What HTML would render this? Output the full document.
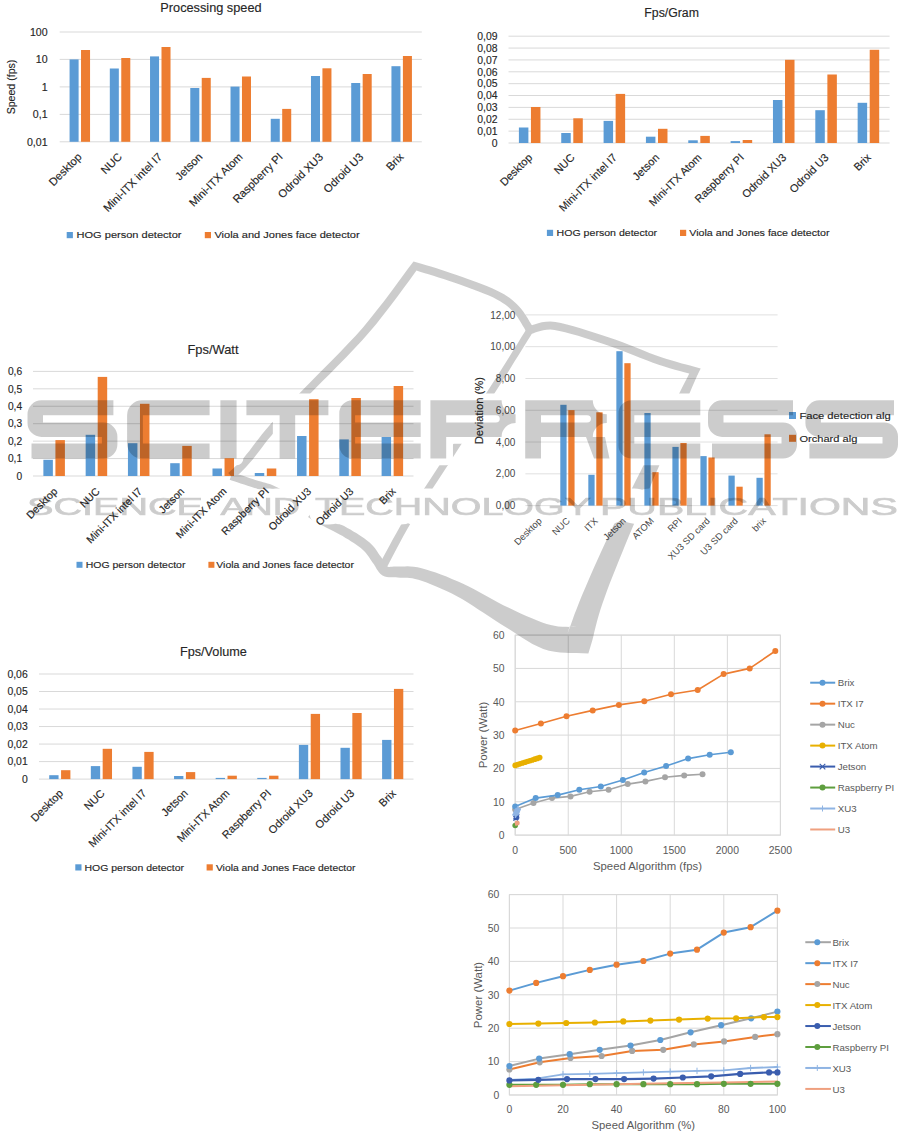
<!DOCTYPE html><html><head><meta charset="utf-8"><style>html,body{margin:0;padding:0;background:#fff;}svg{display:block;}</style></head><body><svg width="915" height="1135" viewBox="0 0 915 1135" font-family='"Liberation Sans", sans-serif'>
<rect width="915" height="1135" fill="#fff"/>
<line x1="59.70" y1="32.00" x2="421.80" y2="32.00" stroke="#D9D9D9" stroke-width="1"/>
<line x1="59.70" y1="59.40" x2="421.80" y2="59.40" stroke="#D9D9D9" stroke-width="1"/>
<line x1="59.70" y1="86.90" x2="421.80" y2="86.90" stroke="#D9D9D9" stroke-width="1"/>
<line x1="59.70" y1="114.40" x2="421.80" y2="114.40" stroke="#D9D9D9" stroke-width="1"/>
<line x1="59.70" y1="141.80" x2="421.80" y2="141.80" stroke="#D9D9D9" stroke-width="1"/>
<text x="47.60" y="35.82" font-size="10.60" fill="#262626" text-anchor="end" stroke="#262626" stroke-width="0.14">100</text>
<text x="47.60" y="63.22" font-size="10.60" fill="#262626" text-anchor="end" stroke="#262626" stroke-width="0.14">10</text>
<text x="47.60" y="90.72" font-size="10.60" fill="#262626" text-anchor="end" stroke="#262626" stroke-width="0.14">1</text>
<text x="47.60" y="118.22" font-size="10.60" fill="#262626" text-anchor="end" stroke="#262626" stroke-width="0.14">0,1</text>
<text x="47.60" y="145.62" font-size="10.60" fill="#262626" text-anchor="end" stroke="#262626" stroke-width="0.14">0,01</text>
<rect x="69.58" y="59.40" width="9.02" height="82.40" fill="#5B9BD5"/>
<rect x="81.03" y="50.00" width="9.02" height="91.80" fill="#ED7D31"/>
<rect x="109.81" y="68.50" width="9.02" height="73.30" fill="#5B9BD5"/>
<rect x="121.27" y="58.00" width="9.02" height="83.80" fill="#ED7D31"/>
<rect x="150.04" y="56.40" width="9.02" height="85.40" fill="#5B9BD5"/>
<rect x="161.50" y="47.00" width="9.02" height="94.80" fill="#ED7D31"/>
<rect x="190.28" y="88.00" width="9.02" height="53.80" fill="#5B9BD5"/>
<rect x="201.73" y="77.90" width="9.02" height="63.90" fill="#ED7D31"/>
<rect x="230.51" y="86.60" width="9.02" height="55.20" fill="#5B9BD5"/>
<rect x="241.97" y="76.50" width="9.02" height="65.30" fill="#ED7D31"/>
<rect x="270.74" y="118.80" width="9.02" height="23.00" fill="#5B9BD5"/>
<rect x="282.20" y="108.90" width="9.02" height="32.90" fill="#ED7D31"/>
<rect x="310.98" y="76.00" width="9.02" height="65.80" fill="#5B9BD5"/>
<rect x="322.43" y="68.30" width="9.02" height="73.50" fill="#ED7D31"/>
<rect x="351.21" y="83.00" width="9.02" height="58.80" fill="#5B9BD5"/>
<rect x="362.67" y="74.00" width="9.02" height="67.80" fill="#ED7D31"/>
<rect x="391.44" y="66.20" width="9.02" height="75.60" fill="#5B9BD5"/>
<rect x="402.90" y="56.00" width="9.02" height="85.80" fill="#ED7D31"/>
<text x="82.42" y="157.60" font-size="11.20" fill="#262626" text-anchor="end" transform="rotate(-45 82.42 157.60)" stroke="#262626" stroke-width="0.14">Desktop</text>
<text x="122.65" y="157.60" font-size="11.20" fill="#262626" text-anchor="end" transform="rotate(-45 122.65 157.60)" stroke="#262626" stroke-width="0.14">NUC</text>
<text x="162.88" y="157.60" font-size="11.20" fill="#262626" text-anchor="end" transform="rotate(-45 162.88 157.60)" stroke="#262626" stroke-width="0.14">Mini-ITX intel I7</text>
<text x="203.12" y="157.60" font-size="11.20" fill="#262626" text-anchor="end" transform="rotate(-45 203.12 157.60)" stroke="#262626" stroke-width="0.14">Jetson</text>
<text x="243.35" y="157.60" font-size="11.20" fill="#262626" text-anchor="end" transform="rotate(-45 243.35 157.60)" stroke="#262626" stroke-width="0.14">Mini-ITX Atom</text>
<text x="283.58" y="157.60" font-size="11.20" fill="#262626" text-anchor="end" transform="rotate(-45 283.58 157.60)" stroke="#262626" stroke-width="0.14">Raspberry PI</text>
<text x="323.82" y="157.60" font-size="11.20" fill="#262626" text-anchor="end" transform="rotate(-45 323.82 157.60)" stroke="#262626" stroke-width="0.14">Odroid XU3</text>
<text x="364.05" y="157.60" font-size="11.20" fill="#262626" text-anchor="end" transform="rotate(-45 364.05 157.60)" stroke="#262626" stroke-width="0.14">Odroid U3</text>
<text x="404.28" y="157.60" font-size="11.20" fill="#262626" text-anchor="end" transform="rotate(-45 404.28 157.60)" stroke="#262626" stroke-width="0.14">Brix</text>
<text x="160.30" y="12.20" font-size="12.80" fill="#262626" textLength="101.30" lengthAdjust="spacingAndGlyphs" stroke="#262626" stroke-width="0.14">Processing speed</text>
<rect x="66.70" y="232.00" width="6.20" height="6.20" fill="#5B9BD5"/>
<text x="76.50" y="238.20" font-size="9.60" fill="#262626" textLength="105.00" lengthAdjust="spacingAndGlyphs" stroke="#262626" stroke-width="0.14">HOG person detector</text>
<rect x="204.80" y="232.00" width="6.20" height="6.20" fill="#ED7D31"/>
<text x="214.40" y="238.20" font-size="9.60" fill="#262626" textLength="145.20" lengthAdjust="spacingAndGlyphs" stroke="#262626" stroke-width="0.14">Viola and Jones face detector</text>
<text x="14.50" y="87.00" font-size="10.60" fill="#262626" text-anchor="middle" transform="rotate(-90 14.50 87.00)" textLength="54.70" lengthAdjust="spacingAndGlyphs" stroke="#262626" stroke-width="0.14">Speed (fps)</text>
<line x1="508.50" y1="36.20" x2="889.60" y2="36.20" stroke="#D9D9D9" stroke-width="1"/>
<line x1="508.50" y1="48.07" x2="889.60" y2="48.07" stroke="#D9D9D9" stroke-width="1"/>
<line x1="508.50" y1="59.93" x2="889.60" y2="59.93" stroke="#D9D9D9" stroke-width="1"/>
<line x1="508.50" y1="71.80" x2="889.60" y2="71.80" stroke="#D9D9D9" stroke-width="1"/>
<line x1="508.50" y1="83.67" x2="889.60" y2="83.67" stroke="#D9D9D9" stroke-width="1"/>
<line x1="508.50" y1="95.53" x2="889.60" y2="95.53" stroke="#D9D9D9" stroke-width="1"/>
<line x1="508.50" y1="107.40" x2="889.60" y2="107.40" stroke="#D9D9D9" stroke-width="1"/>
<line x1="508.50" y1="119.27" x2="889.60" y2="119.27" stroke="#D9D9D9" stroke-width="1"/>
<line x1="508.50" y1="131.13" x2="889.60" y2="131.13" stroke="#D9D9D9" stroke-width="1"/>
<line x1="508.50" y1="143.00" x2="889.60" y2="143.00" stroke="#D9D9D9" stroke-width="1"/>
<text x="497.50" y="39.94" font-size="10.40" fill="#262626" text-anchor="end" stroke="#262626" stroke-width="0.14">0,09</text>
<text x="497.50" y="51.81" font-size="10.40" fill="#262626" text-anchor="end" stroke="#262626" stroke-width="0.14">0,08</text>
<text x="497.50" y="63.68" font-size="10.40" fill="#262626" text-anchor="end" stroke="#262626" stroke-width="0.14">0,07</text>
<text x="497.50" y="75.54" font-size="10.40" fill="#262626" text-anchor="end" stroke="#262626" stroke-width="0.14">0,06</text>
<text x="497.50" y="87.41" font-size="10.40" fill="#262626" text-anchor="end" stroke="#262626" stroke-width="0.14">0,05</text>
<text x="497.50" y="99.28" font-size="10.40" fill="#262626" text-anchor="end" stroke="#262626" stroke-width="0.14">0,04</text>
<text x="497.50" y="111.14" font-size="10.40" fill="#262626" text-anchor="end" stroke="#262626" stroke-width="0.14">0,03</text>
<text x="497.50" y="123.01" font-size="10.40" fill="#262626" text-anchor="end" stroke="#262626" stroke-width="0.14">0,02</text>
<text x="497.50" y="134.88" font-size="10.40" fill="#262626" text-anchor="end" stroke="#262626" stroke-width="0.14">0,01</text>
<text x="497.50" y="146.74" font-size="10.40" fill="#262626" text-anchor="end" stroke="#262626" stroke-width="0.14">0</text>
<rect x="518.90" y="127.50" width="9.49" height="15.50" fill="#5B9BD5"/>
<rect x="530.95" y="107.00" width="9.49" height="36.00" fill="#ED7D31"/>
<rect x="561.24" y="133.00" width="9.49" height="10.00" fill="#5B9BD5"/>
<rect x="573.30" y="118.30" width="9.49" height="24.70" fill="#ED7D31"/>
<rect x="603.59" y="120.90" width="9.49" height="22.10" fill="#5B9BD5"/>
<rect x="615.64" y="93.90" width="9.49" height="49.10" fill="#ED7D31"/>
<rect x="645.93" y="136.70" width="9.49" height="6.30" fill="#5B9BD5"/>
<rect x="657.99" y="128.80" width="9.49" height="14.20" fill="#ED7D31"/>
<rect x="688.27" y="140.30" width="9.49" height="2.70" fill="#5B9BD5"/>
<rect x="700.33" y="135.90" width="9.49" height="7.10" fill="#ED7D31"/>
<rect x="730.62" y="141.10" width="9.49" height="1.90" fill="#5B9BD5"/>
<rect x="742.68" y="140.00" width="9.49" height="3.00" fill="#ED7D31"/>
<rect x="772.96" y="100.00" width="9.49" height="43.00" fill="#5B9BD5"/>
<rect x="785.02" y="59.80" width="9.49" height="83.20" fill="#ED7D31"/>
<rect x="815.31" y="110.20" width="9.49" height="32.80" fill="#5B9BD5"/>
<rect x="827.37" y="74.50" width="9.49" height="68.50" fill="#ED7D31"/>
<rect x="857.65" y="102.80" width="9.49" height="40.20" fill="#5B9BD5"/>
<rect x="869.71" y="49.80" width="9.49" height="93.20" fill="#ED7D31"/>
<text x="532.97" y="158.20" font-size="11.00" fill="#262626" text-anchor="end" transform="rotate(-45 532.97 158.20)" stroke="#262626" stroke-width="0.14">Desktop</text>
<text x="575.32" y="158.20" font-size="11.00" fill="#262626" text-anchor="end" transform="rotate(-45 575.32 158.20)" stroke="#262626" stroke-width="0.14">NUC</text>
<text x="617.66" y="158.20" font-size="11.00" fill="#262626" text-anchor="end" transform="rotate(-45 617.66 158.20)" stroke="#262626" stroke-width="0.14">Mini-ITX intel I7</text>
<text x="660.01" y="158.20" font-size="11.00" fill="#262626" text-anchor="end" transform="rotate(-45 660.01 158.20)" stroke="#262626" stroke-width="0.14">Jetson</text>
<text x="702.35" y="158.20" font-size="11.00" fill="#262626" text-anchor="end" transform="rotate(-45 702.35 158.20)" stroke="#262626" stroke-width="0.14">Mini-ITX Atom</text>
<text x="744.69" y="158.20" font-size="11.00" fill="#262626" text-anchor="end" transform="rotate(-45 744.69 158.20)" stroke="#262626" stroke-width="0.14">Raspberry PI</text>
<text x="787.04" y="158.20" font-size="11.00" fill="#262626" text-anchor="end" transform="rotate(-45 787.04 158.20)" stroke="#262626" stroke-width="0.14">Odroid XU3</text>
<text x="829.38" y="158.20" font-size="11.00" fill="#262626" text-anchor="end" transform="rotate(-45 829.38 158.20)" stroke="#262626" stroke-width="0.14">Odroid U3</text>
<text x="871.73" y="158.20" font-size="11.00" fill="#262626" text-anchor="end" transform="rotate(-45 871.73 158.20)" stroke="#262626" stroke-width="0.14">Brix</text>
<text x="644.30" y="17.20" font-size="12.30" fill="#262626" textLength="54.60" lengthAdjust="spacingAndGlyphs" stroke="#262626" stroke-width="0.14">Fps/Gram</text>
<rect x="546.90" y="229.80" width="6.20" height="6.20" fill="#5B9BD5"/>
<text x="556.60" y="236.00" font-size="9.40" fill="#262626" textLength="100.50" lengthAdjust="spacingAndGlyphs" stroke="#262626" stroke-width="0.14">HOG person detector</text>
<rect x="680.00" y="229.80" width="6.20" height="6.20" fill="#ED7D31"/>
<text x="689.30" y="236.00" font-size="9.40" fill="#262626" textLength="140.20" lengthAdjust="spacingAndGlyphs" stroke="#262626" stroke-width="0.14">Viola and Jones face detector</text>
<line x1="33.00" y1="371.40" x2="413.50" y2="371.40" stroke="#D9D9D9" stroke-width="1"/>
<line x1="33.00" y1="388.83" x2="413.50" y2="388.83" stroke="#D9D9D9" stroke-width="1"/>
<line x1="33.00" y1="406.27" x2="413.50" y2="406.27" stroke="#D9D9D9" stroke-width="1"/>
<line x1="33.00" y1="423.70" x2="413.50" y2="423.70" stroke="#D9D9D9" stroke-width="1"/>
<line x1="33.00" y1="441.13" x2="413.50" y2="441.13" stroke="#D9D9D9" stroke-width="1"/>
<line x1="33.00" y1="458.57" x2="413.50" y2="458.57" stroke="#D9D9D9" stroke-width="1"/>
<line x1="33.00" y1="476.00" x2="413.50" y2="476.00" stroke="#D9D9D9" stroke-width="1"/>
<text x="22.10" y="375.07" font-size="10.20" fill="#262626" text-anchor="end" stroke="#262626" stroke-width="0.14">0,6</text>
<text x="22.10" y="392.51" font-size="10.20" fill="#262626" text-anchor="end" stroke="#262626" stroke-width="0.14">0,5</text>
<text x="22.10" y="409.94" font-size="10.20" fill="#262626" text-anchor="end" stroke="#262626" stroke-width="0.14">0,4</text>
<text x="22.10" y="427.37" font-size="10.20" fill="#262626" text-anchor="end" stroke="#262626" stroke-width="0.14">0,3</text>
<text x="22.10" y="444.81" font-size="10.20" fill="#262626" text-anchor="end" stroke="#262626" stroke-width="0.14">0,2</text>
<text x="22.10" y="462.24" font-size="10.20" fill="#262626" text-anchor="end" stroke="#262626" stroke-width="0.14">0,1</text>
<text x="22.10" y="479.67" font-size="10.20" fill="#262626" text-anchor="end" stroke="#262626" stroke-width="0.14">0</text>
<rect x="43.38" y="459.80" width="9.48" height="16.20" fill="#5B9BD5"/>
<rect x="55.42" y="440.10" width="9.48" height="35.90" fill="#ED7D31"/>
<rect x="85.66" y="434.80" width="9.48" height="41.20" fill="#5B9BD5"/>
<rect x="97.70" y="376.90" width="9.48" height="99.10" fill="#ED7D31"/>
<rect x="127.94" y="443.20" width="9.48" height="32.80" fill="#5B9BD5"/>
<rect x="139.97" y="403.80" width="9.48" height="72.20" fill="#ED7D31"/>
<rect x="170.21" y="463.20" width="9.48" height="12.80" fill="#5B9BD5"/>
<rect x="182.25" y="445.90" width="9.48" height="30.10" fill="#ED7D31"/>
<rect x="212.49" y="468.50" width="9.48" height="7.50" fill="#5B9BD5"/>
<rect x="224.53" y="458.20" width="9.48" height="17.80" fill="#ED7D31"/>
<rect x="254.77" y="473.00" width="9.48" height="3.00" fill="#5B9BD5"/>
<rect x="266.81" y="468.50" width="9.48" height="7.50" fill="#ED7D31"/>
<rect x="297.05" y="436.00" width="9.48" height="40.00" fill="#5B9BD5"/>
<rect x="309.09" y="399.20" width="9.48" height="76.80" fill="#ED7D31"/>
<rect x="339.32" y="439.40" width="9.48" height="36.60" fill="#5B9BD5"/>
<rect x="351.36" y="398.00" width="9.48" height="78.00" fill="#ED7D31"/>
<rect x="381.60" y="437.00" width="9.48" height="39.00" fill="#5B9BD5"/>
<rect x="393.64" y="386.00" width="9.48" height="90.00" fill="#ED7D31"/>
<text x="58.14" y="492.00" font-size="10.60" fill="#262626" text-anchor="end" transform="rotate(-45 58.14 492.00)" stroke="#262626" stroke-width="0.14">Desktop</text>
<text x="100.42" y="492.00" font-size="10.60" fill="#262626" text-anchor="end" transform="rotate(-45 100.42 492.00)" stroke="#262626" stroke-width="0.14">NUC</text>
<text x="142.69" y="492.00" font-size="10.60" fill="#262626" text-anchor="end" transform="rotate(-45 142.69 492.00)" stroke="#262626" stroke-width="0.14">Mini-ITX intel I7</text>
<text x="184.97" y="492.00" font-size="10.60" fill="#262626" text-anchor="end" transform="rotate(-45 184.97 492.00)" stroke="#262626" stroke-width="0.14">Jetson</text>
<text x="227.25" y="492.00" font-size="10.60" fill="#262626" text-anchor="end" transform="rotate(-45 227.25 492.00)" stroke="#262626" stroke-width="0.14">Mini-ITX Atom</text>
<text x="269.53" y="492.00" font-size="10.60" fill="#262626" text-anchor="end" transform="rotate(-45 269.53 492.00)" stroke="#262626" stroke-width="0.14">Raspberry PI</text>
<text x="311.81" y="492.00" font-size="10.60" fill="#262626" text-anchor="end" transform="rotate(-45 311.81 492.00)" stroke="#262626" stroke-width="0.14">Odroid XU3</text>
<text x="354.08" y="492.00" font-size="10.60" fill="#262626" text-anchor="end" transform="rotate(-45 354.08 492.00)" stroke="#262626" stroke-width="0.14">Odroid U3</text>
<text x="396.36" y="492.00" font-size="10.60" fill="#262626" text-anchor="end" transform="rotate(-45 396.36 492.00)" stroke="#262626" stroke-width="0.14">Brix</text>
<text x="187.50" y="354.00" font-size="12.60" fill="#262626" textLength="51.00" lengthAdjust="spacingAndGlyphs" stroke="#262626" stroke-width="0.14">Fps/Watt</text>
<rect x="76.50" y="561.80" width="6.00" height="6.00" fill="#5B9BD5"/>
<text x="85.70" y="567.80" font-size="9.30" fill="#262626" textLength="99.70" lengthAdjust="spacingAndGlyphs" stroke="#262626" stroke-width="0.14">HOG person detector</text>
<rect x="208.40" y="561.80" width="6.00" height="6.00" fill="#ED7D31"/>
<text x="216.30" y="567.80" font-size="9.30" fill="#262626" textLength="137.60" lengthAdjust="spacingAndGlyphs" stroke="#262626" stroke-width="0.14">Viola and Jones face detector</text>
<line x1="525.40" y1="314.90" x2="777.60" y2="314.90" stroke="#E0E0E0" stroke-width="1"/>
<line x1="525.40" y1="346.68" x2="777.60" y2="346.68" stroke="#E0E0E0" stroke-width="1"/>
<line x1="525.40" y1="378.47" x2="777.60" y2="378.47" stroke="#E0E0E0" stroke-width="1"/>
<line x1="525.40" y1="410.25" x2="777.60" y2="410.25" stroke="#E0E0E0" stroke-width="1"/>
<line x1="525.40" y1="442.03" x2="777.60" y2="442.03" stroke="#E0E0E0" stroke-width="1"/>
<line x1="525.40" y1="473.82" x2="777.60" y2="473.82" stroke="#E0E0E0" stroke-width="1"/>
<line x1="525.40" y1="505.60" x2="777.60" y2="505.60" stroke="#E0E0E0" stroke-width="1"/>
<text x="515.30" y="318.50" font-size="10.00" fill="#474747" text-anchor="end">12,00</text>
<text x="515.30" y="350.28" font-size="10.00" fill="#474747" text-anchor="end">10,00</text>
<text x="515.30" y="382.07" font-size="10.00" fill="#474747" text-anchor="end">8,00</text>
<text x="515.30" y="413.85" font-size="10.00" fill="#474747" text-anchor="end">6,00</text>
<text x="515.30" y="445.63" font-size="10.00" fill="#474747" text-anchor="end">4,00</text>
<text x="515.30" y="477.42" font-size="10.00" fill="#474747" text-anchor="end">2,00</text>
<text x="515.30" y="509.20" font-size="10.00" fill="#474747" text-anchor="end">0,00</text>
<rect x="560.30" y="404.80" width="6.28" height="100.80" fill="#5B9BD5"/>
<rect x="568.28" y="410.10" width="6.28" height="95.50" fill="#ED7D31"/>
<rect x="588.32" y="474.80" width="6.28" height="30.80" fill="#5B9BD5"/>
<rect x="596.30" y="412.30" width="6.28" height="93.30" fill="#ED7D31"/>
<rect x="616.35" y="351.20" width="6.28" height="154.40" fill="#5B9BD5"/>
<rect x="624.33" y="363.20" width="6.28" height="142.40" fill="#ED7D31"/>
<rect x="644.37" y="413.00" width="6.28" height="92.60" fill="#5B9BD5"/>
<rect x="652.35" y="472.20" width="6.28" height="33.40" fill="#ED7D31"/>
<rect x="672.39" y="446.90" width="6.28" height="58.70" fill="#5B9BD5"/>
<rect x="680.37" y="443.00" width="6.28" height="62.60" fill="#ED7D31"/>
<rect x="700.41" y="456.10" width="6.28" height="49.50" fill="#5B9BD5"/>
<rect x="708.39" y="457.50" width="6.28" height="48.10" fill="#ED7D31"/>
<rect x="728.44" y="475.60" width="6.28" height="30.00" fill="#5B9BD5"/>
<rect x="736.41" y="486.70" width="6.28" height="18.90" fill="#ED7D31"/>
<rect x="756.46" y="477.80" width="6.28" height="27.80" fill="#5B9BD5"/>
<rect x="764.44" y="434.30" width="6.28" height="71.30" fill="#ED7D31"/>
<text x="542.41" y="521.50" font-size="9.40" fill="#474747" text-anchor="end" transform="rotate(-45 542.41 521.50)">Desktop</text>
<text x="570.43" y="521.50" font-size="9.40" fill="#474747" text-anchor="end" transform="rotate(-45 570.43 521.50)">NUC</text>
<text x="598.46" y="521.50" font-size="9.40" fill="#474747" text-anchor="end" transform="rotate(-45 598.46 521.50)">ITX</text>
<text x="626.48" y="521.50" font-size="9.40" fill="#474747" text-anchor="end" transform="rotate(-45 626.48 521.50)">Jetson</text>
<text x="654.50" y="521.50" font-size="9.40" fill="#474747" text-anchor="end" transform="rotate(-45 654.50 521.50)">ATOM</text>
<text x="682.52" y="521.50" font-size="9.40" fill="#474747" text-anchor="end" transform="rotate(-45 682.52 521.50)">RPI</text>
<text x="710.54" y="521.50" font-size="9.40" fill="#474747" text-anchor="end" transform="rotate(-45 710.54 521.50)">XU3 SD card</text>
<text x="738.57" y="521.50" font-size="9.40" fill="#474747" text-anchor="end" transform="rotate(-45 738.57 521.50)">U3 SD card</text>
<text x="766.59" y="521.50" font-size="9.40" fill="#474747" text-anchor="end" transform="rotate(-45 766.59 521.50)">brix</text>
<rect x="789.00" y="412.00" width="7.00" height="7.00" fill="#5B9BD5"/>
<text x="799.40" y="419.00" font-size="9.90" fill="#262626" textLength="91.40" lengthAdjust="spacingAndGlyphs" stroke="#262626" stroke-width="0.14">Face detection alg</text>
<rect x="789.00" y="434.80" width="7.00" height="7.00" fill="#ED7D31"/>
<text x="799.40" y="441.80" font-size="9.90" fill="#262626" textLength="57.90" lengthAdjust="spacingAndGlyphs" stroke="#262626" stroke-width="0.14">Orchard alg</text>
<text x="483.20" y="410.60" font-size="11.20" fill="#262626" text-anchor="middle" transform="rotate(-90 483.20 410.60)" textLength="67.30" lengthAdjust="spacingAndGlyphs" stroke="#262626" stroke-width="0.14">Deviation (%)</text>
<line x1="39.00" y1="674.00" x2="413.50" y2="674.00" stroke="#D9D9D9" stroke-width="1"/>
<line x1="39.00" y1="691.52" x2="413.50" y2="691.52" stroke="#D9D9D9" stroke-width="1"/>
<line x1="39.00" y1="709.03" x2="413.50" y2="709.03" stroke="#D9D9D9" stroke-width="1"/>
<line x1="39.00" y1="726.55" x2="413.50" y2="726.55" stroke="#D9D9D9" stroke-width="1"/>
<line x1="39.00" y1="744.07" x2="413.50" y2="744.07" stroke="#D9D9D9" stroke-width="1"/>
<line x1="39.00" y1="761.58" x2="413.50" y2="761.58" stroke="#D9D9D9" stroke-width="1"/>
<line x1="39.00" y1="779.10" x2="413.50" y2="779.10" stroke="#D9D9D9" stroke-width="1"/>
<text x="27.70" y="677.74" font-size="10.40" fill="#262626" text-anchor="end" stroke="#262626" stroke-width="0.14">0,06</text>
<text x="27.70" y="695.26" font-size="10.40" fill="#262626" text-anchor="end" stroke="#262626" stroke-width="0.14">0,05</text>
<text x="27.70" y="712.78" font-size="10.40" fill="#262626" text-anchor="end" stroke="#262626" stroke-width="0.14">0,04</text>
<text x="27.70" y="730.29" font-size="10.40" fill="#262626" text-anchor="end" stroke="#262626" stroke-width="0.14">0,03</text>
<text x="27.70" y="747.81" font-size="10.40" fill="#262626" text-anchor="end" stroke="#262626" stroke-width="0.14">0,02</text>
<text x="27.70" y="765.33" font-size="10.40" fill="#262626" text-anchor="end" stroke="#262626" stroke-width="0.14">0,01</text>
<text x="27.70" y="782.84" font-size="10.40" fill="#262626" text-anchor="end" stroke="#262626" stroke-width="0.14">0</text>
<rect x="49.22" y="775.20" width="9.33" height="3.90" fill="#5B9BD5"/>
<rect x="61.07" y="770.20" width="9.33" height="8.90" fill="#ED7D31"/>
<rect x="90.83" y="766.10" width="9.33" height="13.00" fill="#5B9BD5"/>
<rect x="102.68" y="748.80" width="9.33" height="30.30" fill="#ED7D31"/>
<rect x="132.44" y="766.80" width="9.33" height="12.30" fill="#5B9BD5"/>
<rect x="144.29" y="751.90" width="9.33" height="27.20" fill="#ED7D31"/>
<rect x="174.05" y="776.00" width="9.33" height="3.10" fill="#5B9BD5"/>
<rect x="185.90" y="772.10" width="9.33" height="7.00" fill="#ED7D31"/>
<rect x="215.66" y="777.90" width="9.33" height="1.20" fill="#5B9BD5"/>
<rect x="227.51" y="775.70" width="9.33" height="3.40" fill="#ED7D31"/>
<rect x="257.27" y="777.90" width="9.33" height="1.20" fill="#5B9BD5"/>
<rect x="269.12" y="775.70" width="9.33" height="3.40" fill="#ED7D31"/>
<rect x="298.88" y="744.90" width="9.33" height="34.20" fill="#5B9BD5"/>
<rect x="310.73" y="713.90" width="9.33" height="65.20" fill="#ED7D31"/>
<rect x="340.49" y="747.80" width="9.33" height="31.30" fill="#5B9BD5"/>
<rect x="352.34" y="713.00" width="9.33" height="66.10" fill="#ED7D31"/>
<rect x="382.11" y="739.90" width="9.33" height="39.20" fill="#5B9BD5"/>
<rect x="393.95" y="688.90" width="9.33" height="90.20" fill="#ED7D31"/>
<text x="63.81" y="794.00" font-size="11.00" fill="#262626" text-anchor="end" transform="rotate(-45 63.81 794.00)" stroke="#262626" stroke-width="0.14">Desktop</text>
<text x="105.42" y="794.00" font-size="11.00" fill="#262626" text-anchor="end" transform="rotate(-45 105.42 794.00)" stroke="#262626" stroke-width="0.14">NUC</text>
<text x="147.03" y="794.00" font-size="11.00" fill="#262626" text-anchor="end" transform="rotate(-45 147.03 794.00)" stroke="#262626" stroke-width="0.14">Mini-ITX intel I7</text>
<text x="188.64" y="794.00" font-size="11.00" fill="#262626" text-anchor="end" transform="rotate(-45 188.64 794.00)" stroke="#262626" stroke-width="0.14">Jetson</text>
<text x="230.25" y="794.00" font-size="11.00" fill="#262626" text-anchor="end" transform="rotate(-45 230.25 794.00)" stroke="#262626" stroke-width="0.14">Mini-ITX Atom</text>
<text x="271.86" y="794.00" font-size="11.00" fill="#262626" text-anchor="end" transform="rotate(-45 271.86 794.00)" stroke="#262626" stroke-width="0.14">Raspberry PI</text>
<text x="313.47" y="794.00" font-size="11.00" fill="#262626" text-anchor="end" transform="rotate(-45 313.47 794.00)" stroke="#262626" stroke-width="0.14">Odroid XU3</text>
<text x="355.08" y="794.00" font-size="11.00" fill="#262626" text-anchor="end" transform="rotate(-45 355.08 794.00)" stroke="#262626" stroke-width="0.14">Odroid U3</text>
<text x="396.69" y="794.00" font-size="11.00" fill="#262626" text-anchor="end" transform="rotate(-45 396.69 794.00)" stroke="#262626" stroke-width="0.14">Brix</text>
<text x="179.90" y="655.70" font-size="12.60" fill="#262626" textLength="67.00" lengthAdjust="spacingAndGlyphs" stroke="#262626" stroke-width="0.14">Fps/Volume</text>
<rect x="75.30" y="864.30" width="6.20" height="6.20" fill="#5B9BD5"/>
<text x="84.50" y="870.50" font-size="9.40" fill="#262626" textLength="99.50" lengthAdjust="spacingAndGlyphs" stroke="#262626" stroke-width="0.14">HOG person detector</text>
<rect x="206.60" y="864.30" width="6.20" height="6.20" fill="#ED7D31"/>
<text x="215.90" y="870.50" font-size="9.40" fill="#262626" textLength="139.50" lengthAdjust="spacingAndGlyphs" stroke="#262626" stroke-width="0.14">Viola and Jones Face detector</text>
<line x1="515.20" y1="635.10" x2="780.40" y2="635.10" stroke="#D9D9D9" stroke-width="1"/>
<line x1="515.20" y1="668.43" x2="780.40" y2="668.43" stroke="#D9D9D9" stroke-width="1"/>
<line x1="515.20" y1="701.77" x2="780.40" y2="701.77" stroke="#D9D9D9" stroke-width="1"/>
<line x1="515.20" y1="735.10" x2="780.40" y2="735.10" stroke="#D9D9D9" stroke-width="1"/>
<line x1="515.20" y1="768.43" x2="780.40" y2="768.43" stroke="#D9D9D9" stroke-width="1"/>
<line x1="515.20" y1="801.77" x2="780.40" y2="801.77" stroke="#D9D9D9" stroke-width="1"/>
<line x1="515.20" y1="835.10" x2="780.40" y2="835.10" stroke="#D9D9D9" stroke-width="1"/>
<line x1="515.20" y1="635.10" x2="515.20" y2="835.10" stroke="#D9D9D9" stroke-width="1"/>
<line x1="568.24" y1="635.10" x2="568.24" y2="835.10" stroke="#D9D9D9" stroke-width="1"/>
<line x1="621.28" y1="635.10" x2="621.28" y2="835.10" stroke="#D9D9D9" stroke-width="1"/>
<line x1="674.32" y1="635.10" x2="674.32" y2="835.10" stroke="#D9D9D9" stroke-width="1"/>
<line x1="727.36" y1="635.10" x2="727.36" y2="835.10" stroke="#D9D9D9" stroke-width="1"/>
<line x1="780.40" y1="635.10" x2="780.40" y2="835.10" stroke="#D9D9D9" stroke-width="1"/>
<rect x="515.20" y="635.10" width="265.20" height="200.00" fill="none" stroke="#D9D9D9" stroke-width="1"/>
<text x="504.50" y="638.84" font-size="10.40" fill="#595959" text-anchor="end">60</text>
<text x="504.50" y="672.18" font-size="10.40" fill="#595959" text-anchor="end">50</text>
<text x="504.50" y="705.51" font-size="10.40" fill="#595959" text-anchor="end">40</text>
<text x="504.50" y="738.84" font-size="10.40" fill="#595959" text-anchor="end">30</text>
<text x="504.50" y="772.18" font-size="10.40" fill="#595959" text-anchor="end">20</text>
<text x="504.50" y="805.51" font-size="10.40" fill="#595959" text-anchor="end">10</text>
<text x="504.50" y="838.84" font-size="10.40" fill="#595959" text-anchor="end">0</text>
<text x="515.20" y="854.30" font-size="10.40" fill="#595959" text-anchor="middle">0</text>
<text x="568.24" y="854.30" font-size="10.40" fill="#595959" text-anchor="middle">500</text>
<text x="621.28" y="854.30" font-size="10.40" fill="#595959" text-anchor="middle">1000</text>
<text x="674.32" y="854.30" font-size="10.40" fill="#595959" text-anchor="middle">1500</text>
<text x="727.36" y="854.30" font-size="10.40" fill="#595959" text-anchor="middle">2000</text>
<text x="780.40" y="854.30" font-size="10.40" fill="#595959" text-anchor="middle">2500</text>
<text x="647.50" y="869.70" font-size="11.30" fill="#595959" text-anchor="middle" textLength="109.00" lengthAdjust="spacingAndGlyphs">Speed Algorithm (fps)</text>
<text x="487.00" y="735.00" font-size="11.40" fill="#595959" text-anchor="middle" transform="rotate(-90 487.00 735.00)" textLength="66.60" lengthAdjust="spacingAndGlyphs">Power (Watt)</text>
<polyline points="515.20,730.60 540.90,723.40 566.50,716.30 592.70,710.40 618.90,704.90 644.30,701.30 671.00,694.20 697.70,690.00 723.60,674.10 749.70,668.40 775.30,651.00" fill="none" stroke="#ED7D31" stroke-width="1.6" stroke-linejoin="round" stroke-linecap="round"/>
<circle cx="515.20" cy="730.60" r="3" fill="#ED7D31"/>
<circle cx="540.90" cy="723.40" r="3" fill="#ED7D31"/>
<circle cx="566.50" cy="716.30" r="3" fill="#ED7D31"/>
<circle cx="592.70" cy="710.40" r="3" fill="#ED7D31"/>
<circle cx="618.90" cy="704.90" r="3" fill="#ED7D31"/>
<circle cx="644.30" cy="701.30" r="3" fill="#ED7D31"/>
<circle cx="671.00" cy="694.20" r="3" fill="#ED7D31"/>
<circle cx="697.70" cy="690.00" r="3" fill="#ED7D31"/>
<circle cx="723.60" cy="674.10" r="3" fill="#ED7D31"/>
<circle cx="749.70" cy="668.40" r="3" fill="#ED7D31"/>
<circle cx="775.30" cy="651.00" r="3" fill="#ED7D31"/>
<polyline points="515.20,809.60 533.50,803.00 552.00,798.10 570.50,796.40 589.60,791.70 608.60,789.80 627.70,784.10 645.40,781.40 665.00,777.20 684.20,775.40 702.50,774.20" fill="none" stroke="#A5A5A5" stroke-width="1.6" stroke-linejoin="round" stroke-linecap="round"/>
<circle cx="515.20" cy="809.60" r="3" fill="#A5A5A5"/>
<circle cx="533.50" cy="803.00" r="3" fill="#A5A5A5"/>
<circle cx="552.00" cy="798.10" r="3" fill="#A5A5A5"/>
<circle cx="570.50" cy="796.40" r="3" fill="#A5A5A5"/>
<circle cx="589.60" cy="791.70" r="3" fill="#A5A5A5"/>
<circle cx="608.60" cy="789.80" r="3" fill="#A5A5A5"/>
<circle cx="627.70" cy="784.10" r="3" fill="#A5A5A5"/>
<circle cx="645.40" cy="781.40" r="3" fill="#A5A5A5"/>
<circle cx="665.00" cy="777.20" r="3" fill="#A5A5A5"/>
<circle cx="684.20" cy="775.40" r="3" fill="#A5A5A5"/>
<circle cx="702.50" cy="774.20" r="3" fill="#A5A5A5"/>
<polyline points="515.20,806.40 535.70,798.10 557.70,795.10 579.30,789.80 600.80,786.50 622.90,780.00 644.20,772.60 666.10,766.10 688.10,758.60 709.70,754.70 730.80,752.20" fill="none" stroke="#5B9BD5" stroke-width="1.6" stroke-linejoin="round" stroke-linecap="round"/>
<circle cx="515.20" cy="806.40" r="3" fill="#5B9BD5"/>
<circle cx="535.70" cy="798.10" r="3" fill="#5B9BD5"/>
<circle cx="557.70" cy="795.10" r="3" fill="#5B9BD5"/>
<circle cx="579.30" cy="789.80" r="3" fill="#5B9BD5"/>
<circle cx="600.80" cy="786.50" r="3" fill="#5B9BD5"/>
<circle cx="622.90" cy="780.00" r="3" fill="#5B9BD5"/>
<circle cx="644.20" cy="772.60" r="3" fill="#5B9BD5"/>
<circle cx="666.10" cy="766.10" r="3" fill="#5B9BD5"/>
<circle cx="688.10" cy="758.60" r="3" fill="#5B9BD5"/>
<circle cx="709.70" cy="754.70" r="3" fill="#5B9BD5"/>
<circle cx="730.80" cy="752.20" r="3" fill="#5B9BD5"/>
<polyline points="515.20,765.40 517.65,764.62 520.10,763.84 522.55,763.06 525.00,762.28 527.45,761.50 529.90,760.72 532.35,759.94 534.80,759.16 537.25,758.38 539.70,757.60" fill="none" stroke="#E8B000" stroke-width="2" stroke-linejoin="round" stroke-linecap="round"/>
<circle cx="515.20" cy="765.40" r="2.8" fill="#E8B000"/>
<circle cx="517.65" cy="764.62" r="2.8" fill="#E8B000"/>
<circle cx="520.10" cy="763.84" r="2.8" fill="#E8B000"/>
<circle cx="522.55" cy="763.06" r="2.8" fill="#E8B000"/>
<circle cx="525.00" cy="762.28" r="2.8" fill="#E8B000"/>
<circle cx="527.45" cy="761.50" r="2.8" fill="#E8B000"/>
<circle cx="529.90" cy="760.72" r="2.8" fill="#E8B000"/>
<circle cx="532.35" cy="759.94" r="2.8" fill="#E8B000"/>
<circle cx="534.80" cy="759.16" r="2.8" fill="#E8B000"/>
<circle cx="537.25" cy="758.38" r="2.8" fill="#E8B000"/>
<circle cx="539.70" cy="757.60" r="2.8" fill="#E8B000"/>
<polyline points="515.60,818.50 515.75,818.25 515.90,818.00 516.05,817.75 516.20,817.50 516.35,817.25 516.50,817.00 516.65,816.75 516.80,816.50 516.95,816.25 517.10,816.00" fill="none" stroke="#3A5DAE" stroke-width="1.6" stroke-linejoin="round" stroke-linecap="round"/>
<path d="M513.40,816.30L517.80,820.70M513.40,820.70L517.80,816.30M513.40,818.50H517.80" stroke="#3A5DAE" stroke-width="1.1"/>
<path d="M513.70,815.80L518.10,820.20M513.70,820.20L518.10,815.80M513.70,818.00H518.10" stroke="#3A5DAE" stroke-width="1.1"/>
<path d="M514.00,815.30L518.40,819.70M514.00,819.70L518.40,815.30M514.00,817.50H518.40" stroke="#3A5DAE" stroke-width="1.1"/>
<path d="M514.30,814.80L518.70,819.20M514.30,819.20L518.70,814.80M514.30,817.00H518.70" stroke="#3A5DAE" stroke-width="1.1"/>
<path d="M514.60,814.30L519.00,818.70M514.60,818.70L519.00,814.30M514.60,816.50H519.00" stroke="#3A5DAE" stroke-width="1.1"/>
<path d="M514.90,813.80L519.30,818.20M514.90,818.20L519.30,813.80M514.90,816.00H519.30" stroke="#3A5DAE" stroke-width="1.1"/>
<polyline points="515.40,815.00 515.65,814.40 515.90,813.80 516.15,813.20 516.40,812.60 516.65,812.00 516.90,811.40 517.15,810.80 517.40,810.20 517.65,809.60 517.90,809.00" fill="none" stroke="#8FB4E3" stroke-width="1.6" stroke-linejoin="round" stroke-linecap="round"/>
<path d="M512.40,815.00H518.40M515.40,812.00V818.00" stroke="#8FB4E3" stroke-width="1.3"/>
<path d="M512.65,814.40H518.65M515.65,811.40V817.40" stroke="#8FB4E3" stroke-width="1.3"/>
<path d="M512.90,813.80H518.90M515.90,810.80V816.80" stroke="#8FB4E3" stroke-width="1.3"/>
<path d="M513.15,813.20H519.15M516.15,810.20V816.20" stroke="#8FB4E3" stroke-width="1.3"/>
<path d="M513.40,812.60H519.40M516.40,809.60V815.60" stroke="#8FB4E3" stroke-width="1.3"/>
<path d="M513.65,812.00H519.65M516.65,809.00V815.00" stroke="#8FB4E3" stroke-width="1.3"/>
<path d="M513.90,811.40H519.90M516.90,808.40V814.40" stroke="#8FB4E3" stroke-width="1.3"/>
<path d="M514.15,810.80H520.15M517.15,807.80V813.80" stroke="#8FB4E3" stroke-width="1.3"/>
<path d="M514.40,810.20H520.40M517.40,807.20V813.20" stroke="#8FB4E3" stroke-width="1.3"/>
<path d="M514.65,809.60H520.65M517.65,806.60V812.60" stroke="#8FB4E3" stroke-width="1.3"/>
<path d="M514.90,809.00H520.90M517.90,806.00V812.00" stroke="#8FB4E3" stroke-width="1.3"/>
<polyline points="515.20,826.50 515.45,826.05 515.70,825.60 515.95,825.15 516.20,824.70 516.45,824.25 516.70,823.80 516.95,823.35 517.20,822.90 517.45,822.45 517.70,822.00" fill="none" stroke="#EFA07F" stroke-width="1.6" stroke-linejoin="round" stroke-linecap="round"/>
<polyline points="515.20,825.50 515.30,825.45 515.40,825.40 515.50,825.35 515.60,825.30 515.70,825.25 515.80,825.20 515.90,825.15 516.00,825.10 516.10,825.05 516.20,825.00" fill="none" stroke="#5E9E3E" stroke-width="1.6" stroke-linejoin="round" stroke-linecap="round"/>
<circle cx="515.20" cy="825.50" r="2.8" fill="#5E9E3E"/>
<polyline points="515.95,825.15 516.20,824.70 516.45,824.25 516.70,823.80 516.95,823.35 517.20,822.90 517.45,822.45 517.70,822.00" fill="none" stroke="#EFA07F" stroke-width="1.6" stroke-linejoin="round" stroke-linecap="round"/>
<circle cx="517.20" cy="822.90" r="2.5" fill="#EFA07F"/>
<line x1="810.2" y1="682.70" x2="835.2" y2="682.70" stroke="#5B9BD5" stroke-width="2"/>
<circle cx="822.50" cy="682.70" r="3" fill="#5B9BD5"/>
<text x="837.70" y="686.35" font-size="9.30" fill="#595959" textLength="16.71" lengthAdjust="spacingAndGlyphs">Brix</text>
<line x1="810.2" y1="703.67" x2="835.2" y2="703.67" stroke="#ED7D31" stroke-width="2"/>
<circle cx="822.50" cy="703.67" r="3" fill="#ED7D31"/>
<text x="837.70" y="707.32" font-size="9.30" fill="#595959" textLength="25.87" lengthAdjust="spacingAndGlyphs">ITX I7</text>
<line x1="810.2" y1="724.64" x2="835.2" y2="724.64" stroke="#A5A5A5" stroke-width="2"/>
<circle cx="822.50" cy="724.64" r="3" fill="#A5A5A5"/>
<text x="837.70" y="728.29" font-size="9.30" fill="#595959" textLength="17.25" lengthAdjust="spacingAndGlyphs">Nuc</text>
<line x1="810.2" y1="745.61" x2="835.2" y2="745.61" stroke="#E8B000" stroke-width="2"/>
<circle cx="822.50" cy="745.61" r="3" fill="#E8B000"/>
<text x="837.70" y="749.26" font-size="9.30" fill="#595959" textLength="39.89" lengthAdjust="spacingAndGlyphs">ITX Atom</text>
<line x1="810.2" y1="766.58" x2="835.2" y2="766.58" stroke="#3A5DAE" stroke-width="2"/>
<path d="M819.70,763.78L825.30,769.38M819.70,769.38L825.30,763.78M819.70,766.58H825.30" stroke="#3A5DAE" stroke-width="1.1"/>
<text x="837.70" y="770.23" font-size="9.30" fill="#595959" textLength="28.58" lengthAdjust="spacingAndGlyphs">Jetson</text>
<line x1="810.2" y1="787.55" x2="835.2" y2="787.55" stroke="#5E9E3E" stroke-width="2"/>
<circle cx="822.50" cy="787.55" r="3" fill="#5E9E3E"/>
<text x="837.70" y="791.20" font-size="9.30" fill="#595959" textLength="56.60" lengthAdjust="spacingAndGlyphs">Raspberry PI</text>
<line x1="810.2" y1="808.52" x2="835.2" y2="808.52" stroke="#8FB4E3" stroke-width="2"/>
<path d="M819.50,808.52H825.50M822.50,805.52V811.52" stroke="#8FB4E3" stroke-width="1"/>
<text x="837.70" y="812.17" font-size="9.30" fill="#595959" textLength="18.87" lengthAdjust="spacingAndGlyphs">XU3</text>
<line x1="810.2" y1="829.49" x2="835.2" y2="829.49" stroke="#EFA07F" stroke-width="2"/>
<text x="837.70" y="833.14" font-size="9.30" fill="#595959" textLength="12.40" lengthAdjust="spacingAndGlyphs">U3</text>
<line x1="509.40" y1="894.60" x2="777.40" y2="894.60" stroke="#D9D9D9" stroke-width="1"/>
<line x1="509.40" y1="928.00" x2="777.40" y2="928.00" stroke="#D9D9D9" stroke-width="1"/>
<line x1="509.40" y1="961.40" x2="777.40" y2="961.40" stroke="#D9D9D9" stroke-width="1"/>
<line x1="509.40" y1="994.80" x2="777.40" y2="994.80" stroke="#D9D9D9" stroke-width="1"/>
<line x1="509.40" y1="1028.20" x2="777.40" y2="1028.20" stroke="#D9D9D9" stroke-width="1"/>
<line x1="509.40" y1="1061.60" x2="777.40" y2="1061.60" stroke="#D9D9D9" stroke-width="1"/>
<line x1="509.40" y1="1095.00" x2="777.40" y2="1095.00" stroke="#D9D9D9" stroke-width="1"/>
<line x1="509.40" y1="894.60" x2="509.40" y2="1095.00" stroke="#D9D9D9" stroke-width="1"/>
<line x1="563.00" y1="894.60" x2="563.00" y2="1095.00" stroke="#D9D9D9" stroke-width="1"/>
<line x1="616.60" y1="894.60" x2="616.60" y2="1095.00" stroke="#D9D9D9" stroke-width="1"/>
<line x1="670.20" y1="894.60" x2="670.20" y2="1095.00" stroke="#D9D9D9" stroke-width="1"/>
<line x1="723.80" y1="894.60" x2="723.80" y2="1095.00" stroke="#D9D9D9" stroke-width="1"/>
<line x1="777.40" y1="894.60" x2="777.40" y2="1095.00" stroke="#D9D9D9" stroke-width="1"/>
<rect x="509.40" y="894.60" width="268.00" height="200.40" fill="none" stroke="#D9D9D9" stroke-width="1"/>
<text x="499.30" y="898.34" font-size="10.40" fill="#595959" text-anchor="end">60</text>
<text x="499.30" y="931.74" font-size="10.40" fill="#595959" text-anchor="end">50</text>
<text x="499.30" y="965.14" font-size="10.40" fill="#595959" text-anchor="end">40</text>
<text x="499.30" y="998.54" font-size="10.40" fill="#595959" text-anchor="end">30</text>
<text x="499.30" y="1031.94" font-size="10.40" fill="#595959" text-anchor="end">20</text>
<text x="499.30" y="1065.34" font-size="10.40" fill="#595959" text-anchor="end">10</text>
<text x="499.30" y="1098.74" font-size="10.40" fill="#595959" text-anchor="end">0</text>
<text x="509.40" y="1112.80" font-size="10.40" fill="#595959" text-anchor="middle">0</text>
<text x="563.00" y="1112.80" font-size="10.40" fill="#595959" text-anchor="middle">20</text>
<text x="616.60" y="1112.80" font-size="10.40" fill="#595959" text-anchor="middle">40</text>
<text x="670.20" y="1112.80" font-size="10.40" fill="#595959" text-anchor="middle">60</text>
<text x="723.80" y="1112.80" font-size="10.40" fill="#595959" text-anchor="middle">80</text>
<text x="777.40" y="1112.80" font-size="10.40" fill="#595959" text-anchor="middle">100</text>
<text x="643.30" y="1129.40" font-size="11.30" fill="#595959" text-anchor="middle" textLength="103.50" lengthAdjust="spacingAndGlyphs">Speed Algorithm (%)</text>
<text x="481.50" y="995.00" font-size="11.40" fill="#595959" text-anchor="middle" transform="rotate(-90 481.50 995.00)" textLength="66.30" lengthAdjust="spacingAndGlyphs">Power (Watt)</text>
<polyline points="509.40,1084.80 536.20,1084.80 563.00,1084.80 589.80,1084.20 616.60,1084.20 643.40,1084.20 670.20,1084.20 697.00,1084.20 723.80,1083.80 750.60,1083.80 777.40,1083.80" fill="none" stroke="#5E9E3E" stroke-width="2" stroke-linejoin="round" stroke-linecap="round"/>
<polyline points="509.40,1086.30 563.00,1085.20 616.60,1084.20 670.20,1083.20 723.80,1082.40 777.40,1081.40" fill="none" stroke="#EFA07F" stroke-width="2" stroke-linejoin="round" stroke-linecap="round"/>
<circle cx="509.40" cy="1084.80" r="3.1" fill="#5E9E3E"/>
<circle cx="536.20" cy="1084.80" r="3.1" fill="#5E9E3E"/>
<circle cx="563.00" cy="1084.80" r="3.1" fill="#5E9E3E"/>
<circle cx="589.80" cy="1084.20" r="3.1" fill="#5E9E3E"/>
<circle cx="616.60" cy="1084.20" r="3.1" fill="#5E9E3E"/>
<circle cx="643.40" cy="1084.20" r="3.1" fill="#5E9E3E"/>
<circle cx="670.20" cy="1084.20" r="3.1" fill="#5E9E3E"/>
<circle cx="697.00" cy="1084.20" r="3.1" fill="#5E9E3E"/>
<circle cx="723.80" cy="1083.80" r="3.1" fill="#5E9E3E"/>
<circle cx="750.60" cy="1083.80" r="3.1" fill="#5E9E3E"/>
<circle cx="777.40" cy="1083.80" r="3.1" fill="#5E9E3E"/>
<polyline points="509.40,1079.80 536.20,1078.70 563.00,1074.30 589.80,1073.80 616.60,1073.20 643.40,1072.40 670.20,1071.60 697.00,1070.90 723.80,1070.40 750.60,1068.00 777.40,1067.00" fill="none" stroke="#8FB4E3" stroke-width="1.8" stroke-linejoin="round" stroke-linecap="round"/>
<path d="M559.80,1074.30H566.20M563.00,1071.10V1077.50" stroke="#8FB4E3" stroke-width="1"/>
<path d="M586.60,1073.80H593.00M589.80,1070.60V1077.00" stroke="#8FB4E3" stroke-width="1"/>
<path d="M613.40,1073.20H619.80M616.60,1070.00V1076.40" stroke="#8FB4E3" stroke-width="1"/>
<path d="M640.20,1072.40H646.60M643.40,1069.20V1075.60" stroke="#8FB4E3" stroke-width="1"/>
<path d="M667.00,1071.60H673.40M670.20,1068.40V1074.80" stroke="#8FB4E3" stroke-width="1"/>
<path d="M693.80,1070.90H700.20M697.00,1067.70V1074.10" stroke="#8FB4E3" stroke-width="1"/>
<path d="M720.60,1070.40H727.00M723.80,1067.20V1073.60" stroke="#8FB4E3" stroke-width="1"/>
<path d="M747.40,1068.00H753.80M750.60,1064.80V1071.20" stroke="#8FB4E3" stroke-width="1"/>
<path d="M774.20,1067.00H780.60M777.40,1063.80V1070.20" stroke="#8FB4E3" stroke-width="1"/>
<polyline points="509.40,1080.40 538.34,1079.80 567.02,1079.10 595.43,1079.10 624.10,1079.10 653.58,1078.60 682.80,1077.50 711.20,1076.30 740.15,1073.90 769.09,1072.40 777.40,1072.40" fill="none" stroke="#3A5DAE" stroke-width="2.2" stroke-linejoin="round" stroke-linecap="round"/>
<circle cx="509.40" cy="1080.40" r="3.1" fill="#3A5DAE"/>
<circle cx="538.34" cy="1079.80" r="3.1" fill="#3A5DAE"/>
<circle cx="567.02" cy="1079.10" r="3.1" fill="#3A5DAE"/>
<circle cx="595.43" cy="1079.10" r="3.1" fill="#3A5DAE"/>
<circle cx="624.10" cy="1079.10" r="3.1" fill="#3A5DAE"/>
<circle cx="653.58" cy="1078.60" r="3.1" fill="#3A5DAE"/>
<circle cx="682.80" cy="1077.50" r="3.1" fill="#3A5DAE"/>
<circle cx="711.20" cy="1076.30" r="3.1" fill="#3A5DAE"/>
<circle cx="740.15" cy="1073.90" r="3.1" fill="#3A5DAE"/>
<circle cx="769.09" cy="1072.40" r="3.1" fill="#3A5DAE"/>
<circle cx="777.40" cy="1072.40" r="3.1" fill="#3A5DAE"/>
<polyline points="509.40,1069.50 539.68,1062.30 570.50,1057.90 601.59,1056.00 632.14,1050.90 663.23,1049.80 693.78,1044.40 724.07,1041.40 755.16,1036.90 777.40,1034.20" fill="none" stroke="#ED7D31" stroke-width="2" stroke-linejoin="round" stroke-linecap="round"/>
<circle cx="509.40" cy="1069.50" r="3.1" fill="#A5A5A5"/>
<circle cx="539.68" cy="1062.30" r="3.1" fill="#A5A5A5"/>
<circle cx="570.50" cy="1057.90" r="3.1" fill="#A5A5A5"/>
<circle cx="601.59" cy="1056.00" r="3.1" fill="#A5A5A5"/>
<circle cx="632.14" cy="1050.90" r="3.1" fill="#A5A5A5"/>
<circle cx="663.23" cy="1049.80" r="3.1" fill="#A5A5A5"/>
<circle cx="693.78" cy="1044.40" r="3.1" fill="#A5A5A5"/>
<circle cx="724.07" cy="1041.40" r="3.1" fill="#A5A5A5"/>
<circle cx="755.16" cy="1036.90" r="3.1" fill="#A5A5A5"/>
<circle cx="777.40" cy="1034.20" r="3.1" fill="#A5A5A5"/>
<polyline points="509.40,1066.00 539.15,1058.60 569.70,1054.20 599.72,1049.80 630.54,1045.50 660.28,1040.00 690.57,1032.30 721.12,1025.20 751.14,1018.30 777.40,1011.60" fill="none" stroke="#A5A5A5" stroke-width="2" stroke-linejoin="round" stroke-linecap="round"/>
<circle cx="509.40" cy="1066.00" r="3.1" fill="#5B9BD5"/>
<circle cx="539.15" cy="1058.60" r="3.1" fill="#5B9BD5"/>
<circle cx="569.70" cy="1054.20" r="3.1" fill="#5B9BD5"/>
<circle cx="599.72" cy="1049.80" r="3.1" fill="#5B9BD5"/>
<circle cx="630.54" cy="1045.50" r="3.1" fill="#5B9BD5"/>
<circle cx="660.28" cy="1040.00" r="3.1" fill="#5B9BD5"/>
<circle cx="690.57" cy="1032.30" r="3.1" fill="#5B9BD5"/>
<circle cx="721.12" cy="1025.20" r="3.1" fill="#5B9BD5"/>
<circle cx="751.14" cy="1018.30" r="3.1" fill="#5B9BD5"/>
<circle cx="777.40" cy="1011.60" r="3.1" fill="#5B9BD5"/>
<polyline points="509.40,1024.00 538.34,1023.60 566.22,1023.00 594.89,1022.50 623.30,1021.40 650.37,1020.60 679.04,1019.60 707.72,1018.60 736.13,1018.30 764.00,1017.10 777.40,1017.10" fill="none" stroke="#E8B000" stroke-width="2" stroke-linejoin="round" stroke-linecap="round"/>
<circle cx="509.40" cy="1024.00" r="3.1" fill="#E8B000"/>
<circle cx="538.34" cy="1023.60" r="3.1" fill="#E8B000"/>
<circle cx="566.22" cy="1023.00" r="3.1" fill="#E8B000"/>
<circle cx="594.89" cy="1022.50" r="3.1" fill="#E8B000"/>
<circle cx="623.30" cy="1021.40" r="3.1" fill="#E8B000"/>
<circle cx="650.37" cy="1020.60" r="3.1" fill="#E8B000"/>
<circle cx="679.04" cy="1019.60" r="3.1" fill="#E8B000"/>
<circle cx="707.72" cy="1018.60" r="3.1" fill="#E8B000"/>
<circle cx="736.13" cy="1018.30" r="3.1" fill="#E8B000"/>
<circle cx="764.00" cy="1017.10" r="3.1" fill="#E8B000"/>
<circle cx="777.40" cy="1017.10" r="3.1" fill="#E8B000"/>
<polyline points="509.40,990.60 536.20,982.90 563.00,976.20 589.80,969.90 616.60,964.70 643.40,961.00 670.20,953.60 697.00,949.70 723.80,932.60 750.60,927.20 777.40,910.70" fill="none" stroke="#5B9BD5" stroke-width="2" stroke-linejoin="round" stroke-linecap="round"/>
<circle cx="509.40" cy="990.60" r="3.1" fill="#ED7D31"/>
<circle cx="536.20" cy="982.90" r="3.1" fill="#ED7D31"/>
<circle cx="563.00" cy="976.20" r="3.1" fill="#ED7D31"/>
<circle cx="589.80" cy="969.90" r="3.1" fill="#ED7D31"/>
<circle cx="616.60" cy="964.70" r="3.1" fill="#ED7D31"/>
<circle cx="643.40" cy="961.00" r="3.1" fill="#ED7D31"/>
<circle cx="670.20" cy="953.60" r="3.1" fill="#ED7D31"/>
<circle cx="697.00" cy="949.70" r="3.1" fill="#ED7D31"/>
<circle cx="723.80" cy="932.60" r="3.1" fill="#ED7D31"/>
<circle cx="750.60" cy="927.20" r="3.1" fill="#ED7D31"/>
<circle cx="777.40" cy="910.70" r="3.1" fill="#ED7D31"/>
<line x1="805.3" y1="942.20" x2="830.9" y2="942.20" stroke="#A5A5A5" stroke-width="2"/>
<circle cx="817.30" cy="942.20" r="3" fill="#5B9BD5"/>
<text x="832.40" y="945.85" font-size="9.30" fill="#595959" textLength="16.71" lengthAdjust="spacingAndGlyphs">Brix</text>
<line x1="805.3" y1="963.16" x2="830.9" y2="963.16" stroke="#5B9BD5" stroke-width="2"/>
<circle cx="817.30" cy="963.16" r="3" fill="#ED7D31"/>
<text x="832.40" y="966.81" font-size="9.30" fill="#595959" textLength="25.87" lengthAdjust="spacingAndGlyphs">ITX I7</text>
<line x1="805.3" y1="984.12" x2="830.9" y2="984.12" stroke="#ED7D31" stroke-width="2"/>
<circle cx="817.30" cy="984.12" r="3" fill="#A5A5A5"/>
<text x="832.40" y="987.77" font-size="9.30" fill="#595959" textLength="17.25" lengthAdjust="spacingAndGlyphs">Nuc</text>
<line x1="805.3" y1="1005.08" x2="830.9" y2="1005.08" stroke="#E8B000" stroke-width="2"/>
<circle cx="817.30" cy="1005.08" r="3" fill="#E8B000"/>
<text x="832.40" y="1008.73" font-size="9.30" fill="#595959" textLength="39.89" lengthAdjust="spacingAndGlyphs">ITX Atom</text>
<line x1="805.3" y1="1026.04" x2="830.9" y2="1026.04" stroke="#3A5DAE" stroke-width="2"/>
<circle cx="817.30" cy="1026.04" r="3" fill="#3A5DAE"/>
<text x="832.40" y="1029.69" font-size="9.30" fill="#595959" textLength="28.58" lengthAdjust="spacingAndGlyphs">Jetson</text>
<line x1="805.3" y1="1047.00" x2="830.9" y2="1047.00" stroke="#5E9E3E" stroke-width="2"/>
<circle cx="817.30" cy="1047.00" r="3" fill="#5E9E3E"/>
<text x="832.40" y="1050.65" font-size="9.30" fill="#595959" textLength="56.60" lengthAdjust="spacingAndGlyphs">Raspberry PI</text>
<line x1="805.3" y1="1067.96" x2="830.9" y2="1067.96" stroke="#8FB4E3" stroke-width="2"/>
<path d="M814.30,1067.96H820.30M817.30,1064.96V1070.96" stroke="#8FB4E3" stroke-width="1"/>
<text x="832.40" y="1071.61" font-size="9.30" fill="#595959" textLength="18.87" lengthAdjust="spacingAndGlyphs">XU3</text>
<line x1="805.3" y1="1088.92" x2="830.9" y2="1088.92" stroke="#EFA07F" stroke-width="2"/>
<text x="832.40" y="1092.57" font-size="9.30" fill="#595959" textLength="12.40" lengthAdjust="spacingAndGlyphs">U3</text>
<defs><mask id="ko" maskUnits="userSpaceOnUse" x="0" y="0" width="915" height="1135"><rect width="915" height="1135" fill="#fff"/><path d="M113.40,400.3 H41.50 A14,14 0 0 0 27.50,414.30 V422.90 A14,14 0 0 0 41.50,436.90 H101.90 V443.60 H31.50 V458.6 H103.40 A14,14 0 0 0 117.40,444.60 V436.60 A14,14 0 0 0 103.40,422.60 H43.00 V415.30 H113.40 Z M209.60,400.3 H142.10 A15,15 0 0 0 127.10,415.30 V443.60 A15,15 0 0 0 142.10,458.60 H209.60 V443.60 H142.90 V415.30 H209.60 Z M220.4,400.3 H236.6 V458.6 H220.4 Z M246.4,400.3 H328.4 V415.3 H295.2 V458.6 H279.6 V415.3 H246.4 Z M420.70,400.3 H352.30 A13,13 0 0 0 339.30,413.30 V445.60 A13,13 0 0 0 352.30,458.60 H420.70 V443.60 H355.10 V436.90 H420.70 V422.60 H355.10 V415.30 H420.70 Z M430.40,400.3 H501.60 A14,14 0 0 0 515.60,414.30 V422.90 A14,14 0 0 0 501.60,436.90 H446.20 V458.6 H430.40 Z M446.20,415.30 V422.60 H495.80 A4,4 0 0 0 499.80,418.60 V419.30 A4,4 0 0 0 495.80,415.30 Z M525.20,400.3 H592.80 A14,14 0 0 0 606.80,414.30 V422.90 A14,14 0 0 0 592.80,436.90 H541.00 V458.6 H525.20 Z M541.00,415.30 V422.60 H587.00 A4,4 0 0 0 591.00,418.60 V419.30 A4,4 0 0 0 587.00,415.30 Z M586,436.9 L605,436.9 L609.5,458.6 L594,458.6 Z M700.30,400.3 H631.50 A13,13 0 0 0 618.50,413.30 V445.60 A13,13 0 0 0 631.50,458.60 H700.30 V443.60 H634.30 V436.90 H700.30 V422.60 H634.30 V415.30 H700.30 Z M793.00,400.3 H722.00 A14,14 0 0 0 708.00,414.30 V422.90 A14,14 0 0 0 722.00,436.90 H781.50 V443.60 H712.00 V458.6 H783.00 A14,14 0 0 0 797.00,444.60 V436.60 A14,14 0 0 0 783.00,422.60 H723.50 V415.30 H793.00 Z M894.00,400.3 H819.40 A14,14 0 0 0 805.40,414.30 V422.90 A14,14 0 0 0 819.40,436.90 H882.50 V443.60 H809.40 V458.6 H884.00 A14,14 0 0 0 898.00,444.60 V436.60 A14,14 0 0 0 884.00,422.60 H820.90 V415.30 H894.00 Z" fill="#000" stroke="#000" stroke-width="13.5" stroke-linejoin="round"/><text x="27" y="514.8" font-size="24.4" fill="#000" stroke="#000" stroke-width="19" stroke-linejoin="round" textLength="176" lengthAdjust="spacingAndGlyphs">SCIENCE</text><text x="220.5" y="514.8" font-size="24.4" fill="#000" stroke="#000" stroke-width="19" stroke-linejoin="round" textLength="79.5" lengthAdjust="spacingAndGlyphs">AND</text><text x="315" y="514.8" font-size="24.4" fill="#000" stroke="#000" stroke-width="19" stroke-linejoin="round" textLength="276" lengthAdjust="spacingAndGlyphs">TECHNOLOGY</text><text x="600" y="514.8" font-size="24.4" fill="#000" stroke="#000" stroke-width="19" stroke-linejoin="round" textLength="297.79999999999995" lengthAdjust="spacingAndGlyphs">PUBLICATIONS</text></mask></defs>
<g opacity="0.195" fill="#000"><g mask="url(#ko)"><path d="M233.8,478.9 L234.9,477.8 L236.4,476.4 L238.2,474.8 L240.2,472.9 L242.4,470.7 L244.9,468.2 L247.4,465.6 L250.0,462.6 L252.7,459.4 L255.6,455.8 L258.5,452.0 L261.6,448.0 L264.7,443.8 L268.0,439.6 L271.5,435.4 L275.0,431.2 L278.6,427.2 L282.2,423.2 L285.8,419.3 L289.6,415.2 L293.7,410.9 L298.2,406.3 L303.1,401.1 L308.7,395.3 L315.0,388.8 L322.1,381.6 L329.8,373.9 L337.8,365.8 L346.0,357.5 L354.0,349.1 L361.8,340.8 L369.0,332.6 L376.1,324.2 L383.3,315.1 L390.5,305.7 L397.5,296.5 L403.9,287.8 L409.7,279.9 L414.5,273.3 L416.5,270.6 L416.5,270.6 L419.9,271.7 L424.0,272.9 L428.5,274.3 L433.4,275.8 L438.5,277.4 L443.6,279.1 L448.7,280.8 L454.0,282.6 L459.8,284.6 L465.9,286.8 L472.0,289.0 L478.0,291.2 L483.7,293.5 L488.9,295.6 L493.3,297.6 L496.9,299.5 L500.1,301.2 L502.7,302.9 L505.1,304.5 L507.1,306.1 L509.1,307.8 L511.1,309.7 L513.1,311.7 L515.1,314.0 L517.1,316.6 L519.0,319.5 L520.9,322.5 L522.6,325.4 L524.2,328.1 L525.5,330.4 L528.1,334.6 L532.9,333.4 L535.2,332.6 L537.6,331.8 L540.3,330.9 L543.3,330.2 L546.6,329.7 L550.3,329.6 L554.5,330.0 L559.4,330.9 L565.1,332.2 L571.4,333.9 L578.1,335.8 L585.0,338.0 L592.1,340.3 L599.0,342.6 L605.7,344.8 L612.3,347.1 L619.2,349.6 L626.1,352.3 L633.1,355.0 L639.9,357.7 L646.6,360.3 L652.9,362.7 L658.7,364.8 L664.3,366.6 L669.7,368.3 L674.9,369.8 L679.8,371.1 L684.2,372.3 L688.1,373.3 L691.4,374.2 L689.3,373.6 L690.9,370.2 L690.5,371.1 L690.0,372.0 L689.3,373.4 L688.3,375.4 L686.8,378.4 L684.7,382.5 L681.9,388.1 L678.2,395.6 L673.5,405.0 L668.2,415.6 L662.4,427.2 L656.5,439.0 L650.7,450.8 L645.1,461.9 L640.2,471.9 L635.7,480.8 L631.4,489.4 L627.3,497.5 L623.3,505.4 L619.5,513.2 L615.7,520.8 L612.0,528.4 L608.3,536.2 L604.7,544.0 L601.0,551.9 L597.5,559.8 L594.0,567.6 L590.6,575.2 L587.5,582.6 L584.5,589.6 L581.7,596.1 L579.1,602.5 L576.7,608.7 L574.4,614.6 L572.4,620.2 L570.6,625.2 L569.0,629.6 L567.6,633.3 L569.6,626.6 L576.9,626.9 L573.5,626.9 L569.9,626.9 L566.1,626.8 L562.2,626.7 L558.2,626.4 L554.4,625.8 L550.8,625.1 L546.7,623.9 L542.2,622.4 L537.2,620.5 L531.9,618.3 L526.3,616.0 L520.7,613.4 L515.0,610.8 L509.4,608.1 L503.8,605.4 L498.1,602.4 L492.3,599.2 L486.4,596.0 L480.5,592.7 L474.6,589.5 L468.8,586.5 L463.1,583.7 L457.5,581.2 L451.9,578.9 L446.4,576.6 L440.9,574.5 L435.7,572.6 L430.7,570.9 L426.0,569.5 L421.6,568.2 L417.6,567.3 L413.8,566.7 L410.5,566.4 L407.4,566.3 L404.8,566.4 L402.4,566.5 L400.3,566.5 L398.3,566.5 L396.0,566.5 L393.9,566.6 L392.0,566.7 L390.5,566.8 L389.4,566.9 L388.5,566.9 L388.0,566.8 L387.5,566.6 L387.0,566.3 L386.5,565.8 L385.9,564.9 L385.1,563.8 L384.3,562.3 L383.4,560.7 L382.3,558.8 L381.1,557.1 L379.9,555.5 L378.8,553.9 L377.7,552.2 L376.4,550.3 L375.0,548.3 L373.3,546.3 L371.4,544.3 L369.3,542.3 L367.0,540.4 L364.5,538.5 L361.9,536.7 L359.2,534.9 L356.3,533.1 L353.4,531.4 L350.4,529.6 L347.4,527.9 L344.1,526.1 L340.7,524.4 L337.2,522.6 L333.7,520.9 L330.1,519.2 L326.7,517.5 L323.4,515.8 L320.3,514.1 L317.3,512.4 L314.3,510.5 L311.5,508.7 L308.6,506.8 L305.8,504.9 L303.0,503.1 L300.1,501.2 L297.3,499.4 L294.4,497.6 L291.6,495.9 L288.7,494.1 L285.9,492.3 L283.1,490.6 L280.3,489.0 L277.5,487.5 L274.8,486.2 L272.2,485.0 L269.8,484.1 L267.5,483.4 L265.3,482.7 L263.1,482.2 L260.9,481.6 L258.7,481.0 L256.2,480.2 L253.4,479.3 L250.1,478.2 L246.6,477.0 L243.1,475.8 L239.8,474.7 L236.7,473.7 L234.2,472.8 L232.3,472.2 L229.7,479.8 L231.6,480.4 L234.2,481.3 L237.2,482.3 L240.6,483.4 L244.1,484.6 L247.6,485.7 L250.9,486.8 L253.8,487.8 L256.3,488.6 L258.7,489.4 L260.9,490.0 L263.0,490.6 L264.9,491.3 L266.9,492.0 L269.0,492.8 L271.2,493.8 L273.6,495.1 L276.1,496.4 L278.8,497.9 L281.5,499.6 L284.3,501.3 L287.1,503.0 L289.9,504.8 L292.7,506.6 L295.5,508.4 L298.2,510.2 L300.9,512.1 L303.7,514.0 L306.6,516.0 L309.5,518.0 L312.6,520.0 L315.7,521.9 L319.1,523.8 L322.5,525.6 L326.0,527.4 L329.6,529.2 L333.1,531.0 L336.4,532.7 L339.6,534.4 L342.6,536.1 L345.5,537.9 L348.4,539.6 L351.2,541.4 L353.8,543.1 L356.3,544.8 L358.7,546.5 L360.8,548.1 L362.7,549.7 L364.3,551.3 L365.7,552.8 L367.0,554.4 L368.2,556.1 L369.4,557.8 L370.5,559.5 L371.7,561.3 L372.9,562.9 L373.9,564.3 L374.8,565.7 L375.7,567.3 L376.6,568.9 L377.7,570.5 L378.9,572.2 L380.5,573.9 L382.5,575.4 L384.7,576.4 L386.8,577.0 L388.9,577.2 L390.7,577.3 L392.5,577.3 L394.1,577.3 L395.8,577.3 L397.7,577.5 L400.1,577.7 L402.5,577.7 L404.8,577.7 L407.2,577.8 L409.6,577.9 L412.2,578.3 L415.1,578.9 L418.4,579.8 L422.2,581.1 L426.6,582.6 L431.3,584.4 L436.2,586.5 L441.3,588.7 L446.5,591.1 L451.8,593.6 L456.9,596.3 L462.0,599.1 L467.3,602.3 L472.8,605.8 L478.3,609.4 L483.9,613.1 L489.6,616.8 L495.2,620.4 L500.6,623.9 L505.9,627.2 L511.2,630.6 L516.5,634.1 L521.8,637.5 L527.1,640.8 L532.4,643.9 L537.8,646.6 L543.2,648.9 L549.0,650.7 L554.7,651.8 L560.1,652.5 L565.2,652.8 L569.7,652.9 L573.5,652.9 L576.3,652.9 L588.4,653.4 L592.2,640.8 L593.2,636.9 L594.2,632.4 L595.5,627.3 L596.9,621.8 L598.5,616.0 L600.3,610.0 L602.3,603.9 L604.6,597.4 L607.1,590.5 L609.9,583.1 L612.9,575.5 L616.0,567.7 L619.2,559.7 L622.5,551.7 L625.7,543.8 L628.9,536.1 L632.2,528.3 L635.5,520.6 L638.9,512.7 L642.4,504.6 L646.1,496.2 L649.9,487.4 L653.8,478.1 L658.2,467.9 L663.0,456.4 L668.0,444.3 L673.2,432.1 L678.2,420.2 L682.8,409.2 L686.8,399.6 L690.1,391.9 L692.5,386.2 L694.4,381.9 L695.7,379.0 L696.6,377.0 L697.2,375.6 L697.7,374.7 L698.1,373.8 L700.7,368.4 L693.5,366.4 L690.1,365.6 L686.2,364.6 L681.9,363.4 L677.1,362.1 L672.0,360.6 L666.7,359.0 L661.3,357.2 L655.6,355.2 L649.4,352.9 L642.9,350.3 L636.0,347.6 L629.0,344.8 L622.0,342.1 L615.1,339.6 L608.3,337.2 L601.5,335.0 L594.5,332.7 L587.4,330.4 L580.4,328.2 L573.6,326.2 L567.0,324.4 L561.0,323.0 L555.5,322.0 L550.5,321.6 L545.9,321.8 L541.8,322.3 L538.2,323.2 L535.1,324.2 L532.5,325.1 L530.6,325.7 L531.9,325.4 L532.4,326.3 L531.1,324.1 L529.5,321.4 L527.7,318.3 L525.7,315.2 L523.6,312.0 L521.3,309.0 L518.9,306.3 L516.7,304.0 L514.5,301.9 L512.2,299.9 L509.8,298.0 L507.1,296.2 L504.1,294.3 L500.7,292.4 L496.7,290.4 L492.1,288.3 L486.7,286.0 L480.9,283.8 L474.8,281.5 L468.5,279.3 L462.4,277.1 L456.6,275.1 L451.3,273.2 L446.2,271.5 L441.0,269.8 L435.8,268.1 L430.9,266.6 L426.3,265.2 L422.2,264.0 L418.8,263.0 L413.5,261.4 L408.1,268.6 L403.2,275.2 L397.5,283.0 L391.1,291.7 L384.2,300.9 L377.0,310.1 L369.9,319.1 L363.0,327.4 L355.9,335.4 L348.2,343.6 L340.2,351.9 L332.1,360.2 L324.1,368.2 L316.4,375.9 L309.3,383.2 L302.9,389.7 L297.4,395.5 L292.4,400.7 L287.9,405.4 L283.8,409.7 L279.9,413.8 L276.3,417.8 L272.6,421.8 L269.0,426.0 L265.3,430.3 L261.8,434.6 L258.4,438.9 L255.2,443.1 L252.2,447.1 L249.3,450.9 L246.5,454.3 L244.0,457.4 L241.5,460.1 L239.1,462.7 L236.8,465.0 L234.7,467.1 L232.7,468.9 L230.9,470.6 L229.4,472.0 L228.2,473.1Z"/><path d="M527.0,328.2 L524.5,332.2 L521.3,337.3 L517.6,343.4 L513.3,350.3 L508.6,357.9 L503.4,366.2 L497.9,374.9 L492.1,384.1 L485.4,394.4 L477.8,406.1 L469.6,418.9 L461.1,432.0 L452.6,445.0 L444.5,457.4 L437.3,468.6 L431.1,478.1 L426.0,485.8 L421.9,492.1 L418.3,497.4 L415.2,502.0 L412.4,506.3 L409.7,510.5 L406.9,515.0 L403.8,520.1 L400.3,526.0 L396.7,532.5 L393.0,539.1 L389.4,545.8 L386.0,552.1 L382.9,557.8 L380.4,562.6 L378.5,566.1 L385.5,569.9 L387.4,566.3 L389.9,561.5 L392.9,555.8 L396.2,549.5 L399.8,542.8 L403.4,536.1 L406.9,529.7 L410.2,523.9 L413.2,518.8 L415.9,514.4 L418.5,510.2 L421.3,506.0 L424.3,501.4 L427.8,496.0 L431.9,489.6 L436.9,481.9 L443.1,472.4 L450.4,461.2 L458.4,448.8 L466.9,435.8 L475.5,422.7 L483.7,409.9 L491.3,398.2 L497.9,387.9 L503.8,378.7 L509.4,369.9 L514.5,361.6 L519.3,354.0 L523.6,347.1 L527.3,341.0 L530.5,335.9 L533.0,331.8Z"/></g><path d="M113.40,400.3 H41.50 A14,14 0 0 0 27.50,414.30 V422.90 A14,14 0 0 0 41.50,436.90 H101.90 V443.60 H31.50 V458.6 H103.40 A14,14 0 0 0 117.40,444.60 V436.60 A14,14 0 0 0 103.40,422.60 H43.00 V415.30 H113.40 Z M209.60,400.3 H142.10 A15,15 0 0 0 127.10,415.30 V443.60 A15,15 0 0 0 142.10,458.60 H209.60 V443.60 H142.90 V415.30 H209.60 Z M220.4,400.3 H236.6 V458.6 H220.4 Z M246.4,400.3 H328.4 V415.3 H295.2 V458.6 H279.6 V415.3 H246.4 Z M420.70,400.3 H352.30 A13,13 0 0 0 339.30,413.30 V445.60 A13,13 0 0 0 352.30,458.60 H420.70 V443.60 H355.10 V436.90 H420.70 V422.60 H355.10 V415.30 H420.70 Z M430.40,400.3 H501.60 A14,14 0 0 0 515.60,414.30 V422.90 A14,14 0 0 0 501.60,436.90 H446.20 V458.6 H430.40 Z M446.20,415.30 V422.60 H495.80 A4,4 0 0 0 499.80,418.60 V419.30 A4,4 0 0 0 495.80,415.30 Z M525.20,400.3 H592.80 A14,14 0 0 0 606.80,414.30 V422.90 A14,14 0 0 0 592.80,436.90 H541.00 V458.6 H525.20 Z M541.00,415.30 V422.60 H587.00 A4,4 0 0 0 591.00,418.60 V419.30 A4,4 0 0 0 587.00,415.30 Z M586,436.9 L605,436.9 L609.5,458.6 L594,458.6 Z M700.30,400.3 H631.50 A13,13 0 0 0 618.50,413.30 V445.60 A13,13 0 0 0 631.50,458.60 H700.30 V443.60 H634.30 V436.90 H700.30 V422.60 H634.30 V415.30 H700.30 Z M793.00,400.3 H722.00 A14,14 0 0 0 708.00,414.30 V422.90 A14,14 0 0 0 722.00,436.90 H781.50 V443.60 H712.00 V458.6 H783.00 A14,14 0 0 0 797.00,444.60 V436.60 A14,14 0 0 0 783.00,422.60 H723.50 V415.30 H793.00 Z M894.00,400.3 H819.40 A14,14 0 0 0 805.40,414.30 V422.90 A14,14 0 0 0 819.40,436.90 H882.50 V443.60 H809.40 V458.6 H884.00 A14,14 0 0 0 898.00,444.60 V436.60 A14,14 0 0 0 884.00,422.60 H820.90 V415.30 H894.00 Z" fill-rule="nonzero"/><text x="27" y="514.8" font-size="24.4" stroke="#000" stroke-width="0.7" textLength="176" lengthAdjust="spacingAndGlyphs">SCIENCE</text><text x="220.5" y="514.8" font-size="24.4" stroke="#000" stroke-width="0.7" textLength="79.5" lengthAdjust="spacingAndGlyphs">AND</text><text x="315" y="514.8" font-size="24.4" stroke="#000" stroke-width="0.7" textLength="276" lengthAdjust="spacingAndGlyphs">TECHNOLOGY</text><text x="600" y="514.8" font-size="24.4" stroke="#000" stroke-width="0.7" textLength="297.79999999999995" lengthAdjust="spacingAndGlyphs">PUBLICATIONS</text></g>
</svg></body></html>
